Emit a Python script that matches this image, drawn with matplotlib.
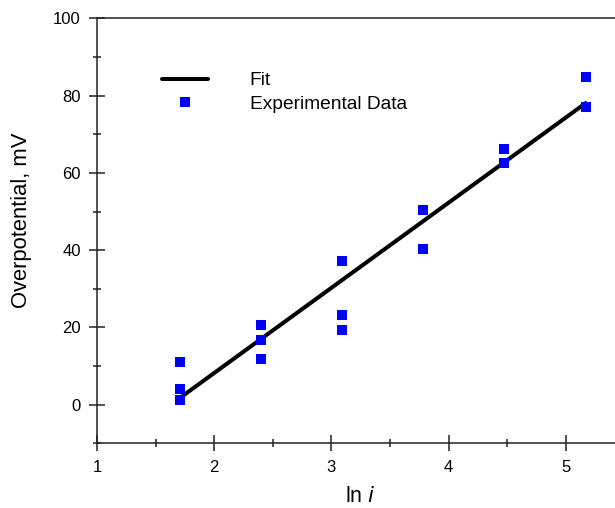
import numpy as np
import matplotlib
matplotlib.use("Agg")
import matplotlib.pyplot as plt
from matplotlib.ticker import MultipleLocator

plt.rcParams['font.family'] = ['Liberation Sans', 'DejaVu Sans']

# ln i values and measured overpotential (mV)
ln_i = [1.705, 1.705, 1.705, 2.40, 2.40, 2.40, 3.088, 3.088, 3.088,
        3.785, 3.785, 4.475, 4.475, 5.17, 5.17]
overpot = [11.0, 4.1, 1.3, 20.6, 16.8, 11.8, 37.2, 23.3, 19.4,
           50.3, 40.4, 66.2, 62.7, 84.8, 77.0]

# linear fit
fit_slope = 22.05
fit_intercept = -35.9

fig = plt.figure(figsize=(6.15, 5.08), dpi=100)
ax = fig.add_axes([0.1577, 0.1274, 0.8576, 0.8362])

xfit = np.array([min(ln_i), max(ln_i)])
ax.plot(xfit, fit_slope * xfit + fit_intercept, color='black', lw=2.9,
        solid_capstyle='round', label='Fit', zorder=2)
ax.plot(ln_i, overpot, 's', color='#0000ff', ms=7.0, mew=0,
        label='Experimental Data', zorder=3)

ax.set_xlim(1, 5.5)
ax.set_ylim(-10, 100)
ax.xaxis.set_major_locator(MultipleLocator(1))
ax.xaxis.set_minor_locator(MultipleLocator(0.5))
ax.yaxis.set_major_locator(MultipleLocator(20))
ax.yaxis.set_minor_locator(MultipleLocator(10))

for s in ax.spines.values():
    s.set_linewidth(1.1)
    s.set_color('#222222')
ax.tick_params(which='major', direction='inout', length=11.5, width=1.1,
               labelsize=12, color='#222222', pad=6)
ax.tick_params(which='minor', direction='inout', length=6, width=1.1,
               color='#222222')

ax.set_xlabel('ln $\\it{i}$', fontsize=15.5, labelpad=8)
ax.set_ylabel('Overpotential, mV', fontsize=15.8)
ax.yaxis.set_label_coords(-0.1232, 0.526)

ax.legend(loc='upper left', bbox_to_anchor=(0.123, 0.874), frameon=False,
          fontsize=13.8, handlelength=2.4, handletextpad=2.19,
          numpoints=1, borderpad=0, borderaxespad=0, labelspacing=0.3)

fig.savefig('out.png', dpi=100)
